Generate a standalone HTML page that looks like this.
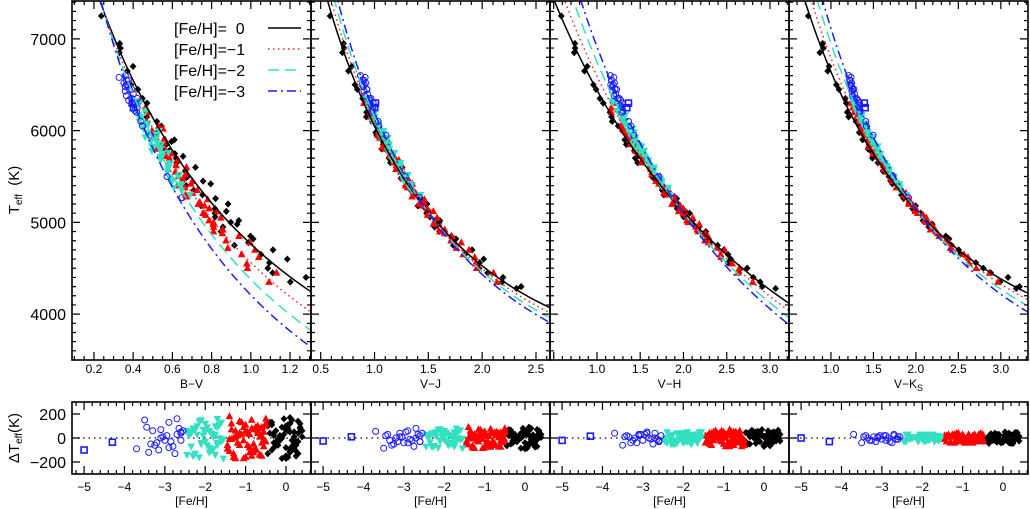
<!DOCTYPE html>
<html><head><meta charset="utf-8">
<style>
html,body{margin:0;padding:0;background:#fff;}
svg{display:block;font-family:"Liberation Sans",sans-serif;}
.pre{white-space:pre;}
</style></head>
<body>
<svg id="fig" width="1030" height="509" viewBox="0 0 1030 509" xmlns="http://www.w3.org/2000/svg"></svg>
<script>
// ---- data ----
const curveFeh = [0, -1, -2, -3];
const blackTeff = [7250,6900,6850,6700,6500,6450,6300,6200,6100,5950,5900,5850,5800,5750,5700,5600,5500,5450,5400,5300,5200,5150,5100,5000,4950,4850,4750,4600,4450,4280,
 6950,6650,6350,6150,6050,5980,5880,5780,5720,5650,5560,5480,5420,5350,5260,5180,5120,5060,5020,4980,4900,4820,4780,4700,4650,4560,4500,4400,4350,4300];
const blackFeh = [0.1,-0.2,0.3,0.0,-0.1,0.2,-0.3,0.05,0.15,-0.4,0.25,-0.05,0.1,-0.25,0.35,0.0,-0.15,0.2,-0.35,0.1,0.3,-0.1,0.0,-0.2,0.15,0.25,-0.45,0.05,-0.3,0.2,
 -0.35,0.4,-0.15,0.3,-0.45,0.05,0.2,-0.3,0.1,0.35,-0.2,0.0,0.25,-0.4,0.15,-0.05,0.3,-0.25,0.1,0.4,-0.35,0.0,0.2,-0.1,0.35,-0.3,0.05,0.25,-0.15,0.1];
const blackDBV = [120,-60,40,-150,90,10,-80,60,-20,130,-110,30,170,-40,80,-170,20,-90,110,50,-130,0,70,-60,150,-30,100,-160,40,-10,
 -100,60,-20,140,-130,80,-50,20,-90,120,-10,100,-150,40,-70,160,-30,60,-110,10,130,-80,50,-170,90,-40,110,-60,20,-120];
const blackDVJ = [60,-30,20,-80,40,5,-40,30,-10,70,-60,15,90,-20,40,-90,10,-50,55,25,-70,0,35,-30,80,-15,50,-85,20,-5,
 -50,30,-10,70,-65,40,-25,10,-45,60,-5,50,-75,20,-35,80,-15,30,-55,5,65,-40,25,-85,45,-20,55,-30,10,-60];
const blackDVH = [-40,50,10,-60,30,-20,60,-10,40,-50,20,70,-30,0,50,-70,30,-40,10,60,-20,40,-60,20,-10,50,-30,10,65,-45,
 35,-25,55,-15,45,-55,5,25,-35,65,-45,15,-5,40,-65,20,-25,50,-10,30,-50,10,45,-30,0,60,-40,20,-15,35];
const blackDVK = [30,-20,40,-10,20,-30,10,50,-40,0,25,-25,35,-15,45,-35,5,15,-45,20,-10,30,-20,10,40,-30,0,20,-15,25,
 -25,15,-35,45,-5,25,-45,35,-15,5,40,-30,20,-10,30,-40,10,-20,35,-25,15,-35,25,-5,45,-15,5,-45,30,-20];

const redTeff = [6300,6200,6100,6050,6000,5950,5900,5900,5850,5800,5750,5700,5650,5600,5550,5500,5450,5400,5350,5300,5250,5200,5150,5100,5050,5000,4950,4900,4850,4800,4700,4650,4550,4450,4350,
 6250,6150,6020,5980,5920,5870,5820,5780,5720,5680,5620,5580,5520,5480,5420,5380,5320,5280,5220,5180,5120,5080,5020,4980,4920,4880,4780,4720,4620,4500];
const redFeh = [-1.4,-0.6,-1.0,-0.8,-1.2,-0.5,-0.9,-1.3,-0.7,-1.1,-0.55,-1.45,-0.85,-0.65,-1.25,-0.95,-0.75,-1.15,-0.5,-1.35,-1.05,-0.6,-0.8,-1.2,-0.9,-0.7,-1.4,-1.0,-0.55,-1.1,-0.85,-0.65,-1.3,-0.75,-0.95,
 -0.95,-1.35,-0.6,-1.15,-0.75,-1.4,-0.5,-1.05,-0.8,-1.25,-0.65,-1.1,-0.9,-0.55,-1.3,-0.7,-1.2,-0.85,-1.45,-0.6,-1.0,-0.75,-1.35,-0.5,-1.15,-0.9,-0.65,-1.25,-0.8,-1.05];
const redDBV = [180,-40,60,-120,20,100,-80,-160,40,130,-20,-60,80,-140,10,50,-100,140,-30,70,-170,90,-50,20,-120,60,-10,110,-70,30,-150,80,0,-90,40,
 -60,120,-150,40,90,-110,160,-20,70,-170,10,130,-80,50,-130,100,-40,150,-90,20,-160,80,-10,120,-60,30,-140,60,-100,90];
const redDVJ = [90,-20,30,-60,10,50,-40,-80,20,65,-10,-30,40,-70,5,25,-50,70,-15,35,-85,45,-25,10,-60,30,-5,55,-35,15,-75,40,0,-45,20,
 -30,60,-75,20,45,-55,80,-10,35,-85,5,65,-40,25,-65,50,-20,75,-45,10,-80,40,-5,60,-30,15,-70,30,-50,45];
const redDVH = [-30,40,-50,20,60,-10,30,-60,50,-20,10,-40,70,-30,20,-70,40,0,-50,30,-20,60,-40,10,-60,50,-10,20,-30,40,-70,30,-20,50,0,
 30,-50,10,40,-60,20,-30,60,-10,50,-40,0,30,-70,40,-20,60,-50,20,-30,50,-10,40,-60,10,-40,30,-20,50,-30];
const redDVK = [20,-30,10,-20,30,-10,0,-40,20,-30,40,-10,10,-20,30,-40,20,0,-30,10,-20,30,-10,20,-40,10,-30,0,20,-10,30,-20,10,-30,0,
 -20,30,-10,20,-40,10,30,-30,0,20,-10,40,-20,10,-30,30,-40,0,20,-10,30,-30,10,-20,40,0,-10,20,-30,10];

const cyanTeff = [6350,6300,6250,6200,6150,6100,6080,6050,6000,5980,5950,5920,5900,5880,5850,5820,5800,5780,5750,5700,5650,5600,5550,5500,5450,5400,5350,5300,
 6320,6270,6220,6170,6120,6060,6020,5960,5930,5860,5830,5760,5720,5680,5620,5580,5520,5480,5420,5380];
const cyanFeh = [-2.3,-1.6,-2.0,-1.8,-2.4,-1.7,-2.1,-1.9,-1.55,-2.2,-1.75,-2.45,-1.65,-2.05,-1.85,-2.35,-1.6,-2.15,-1.95,-1.7,-2.25,-1.8,-2.0,-1.9,-1.65,-2.1,-1.75,-2.3,
 -1.7,-2.2,-1.9,-2.4,-1.6,-2.0,-2.3,-1.8,-2.1,-1.55,-2.45,-1.75,-2.05,-1.65,-2.35,-1.85,-2.15,-1.95,-1.7,-2.25];
const cyanDBV = [80,-30,120,-90,20,160,-50,60,-170,30,100,-140,0,70,-100,40,-20,140,-60,90,-130,10,50,-80,110,-40,30,-150,
 -60,100,-120,50,130,-30,80,-90,150,-10,60,-140,20,110,-70,40,-160,90,-40,70];
const cyanDVJ = [40,-15,60,-45,10,80,-25,30,-85,15,50,-70,0,35,-50,20,-10,70,-30,45,-65,5,25,-40,55,-20,15,-75,
 -30,50,-60,25,65,-15,40,-45,75,-5,30,-70,10,55,-35,20,-80,45,-20,35];
const cyanDVH = [-20,30,-40,20,50,-10,40,-30,10,-50,30,0,-20,40,-30,20,50,-40,10,-10,30,-50,20,0,-30,40,-20,10,
 30,-20,50,-40,10,40,-50,20,-10,50,-30,30,0,-40,20,-20,40,-30,10,-50];
const cyanDVK = [10,-20,20,-10,30,0,-30,20,-10,10,30,-20,0,20,-10,30,-20,10,-30,20,0,-10,20,-20,10,0,30,-10,
 -20,10,30,-30,20,-10,0,30,-20,10,-30,20,30,-10,0,-20,10,20,-30,10];

const blueTeff = [6600,6580,6550,6520,6500,6480,6450,6430,6400,6380,6350,6330,6300,6280,6250,6220,6200,6450,6500,6350,6550,6050,5950,5500,5270,6100];
const blueFeh = [-3.7,-3.5,-3.4,-3.3,-3.2,-3.1,-3.0,-2.9,-2.8,-2.7,-2.6,-3.45,-3.25,-3.05,-2.85,-2.65,-2.55,-3.15,-2.95,-2.75,-3.35,-2.6,-2.9,-2.7,-2.6,-3.1];
const blueDBV = [-90,150,-120,60,-40,70,-20,130,-70,160,40,90,-60,10,-30,80,60,-100,20,-130,-50,50,-80,30,-20,0];
const blueDVJ = [55,-85,30,-60,0,40,-40,60,-20,80,-30,20,-50,10,-10,30,40,-30,50,-70,-20,20,-40,0,-30,10];
const blueDVH = [40,-60,20,-40,0,30,-20,50,-10,40,-30,10,-20,30,0,-10,20,-40,30,-50,10,-20,40,0,-30,20];
const blueDVK = [30,-40,20,-20,10,0,-10,20,-30,30,-10,10,-20,20,0,-10,10,-30,20,-40,0,10,-20,20,-10,10];

const sqTeff = [6300, 6250];
const sqFeh = [-5.0, -4.3];
const sqDBV = [-100, -35];
const sqDVJ = [-25, 10];
const sqDVH = [-20, 15];
const sqDVK = [0, -30];

const bvTicks = ["0.2","0.4","0.6","0.8","1.0","1.2"];
const vjTicks = ["0.5","1.0","1.5","2.0","2.5"];
const vhTicks = ["1.0","1.5","2.0","2.5","3.0"];
const vkTicks = ["1.0","1.5","2.0","2.5","3.0"];
const teffTicks = [4000,5000,6000,7000];
const dTicks = [-200,0,200];
const fehTicks = [-5,-4,-3,-2,-1,0];

// ---- layout ----
const NS="http://www.w3.org/2000/svg";
const svg=document.getElementById('fig');
function mk(tag,attrs,parent){const e=document.createElementNS(NS,tag);for(const k in attrs)e.setAttribute(k,attrs[k]);(parent||svg).appendChild(e);return e;}

const TOP={y0:1,y1:360,tmin:3500,tmax:7413};
const BOT={y0:402,y1:474,dmin:-300,dmax:300,fmin:-5.3,fmax:0.62};
const yT=t=>TOP.y1-(t-TOP.tmin)/(TOP.tmax-TOP.tmin)*(TOP.y1-TOP.y0);
const yD=d=>BOT.y1-(d-BOT.dmin)/(BOT.dmax-BOT.dmin)*(BOT.y1-BOT.y0);

const panels=[
 {key:'bv',label:'B−V',sub:'',x0:72,x1:311,xmin:0.088,xmax:1.307,major:0.2,minor:0.05,ticks:bvTicks,a:0.552,b:0.570,c:-0.064,d:-0.062,xc:0.25,
  res:{black:blackDBV,red:redDBV,cyan:cyanDBV,blue:blueDBV,sq:sqDBV}},
 {key:'vj',label:'V−J',sub:'',x0:311,x1:550,xmin:0.41,xmax:2.63,major:0.5,minor:0.1,ticks:vjTicks,a:0.4526,b:0.431,c:-0.0503,d:-0.01465,xc:1.46,
  res:{black:blackDVJ,red:redDVJ,cyan:cyanDVJ,blue:blueDVJ,sq:sqDVJ}},
 {key:'vh',label:'V−H',sub:'',x0:550,x1:789,xmin:0.457,xmax:3.22,major:0.5,minor:0.1,ticks:vhTicks,a:0.572,b:0.214,c:-0.00358,d:-0.019,xc:1.94,
  res:{black:blackDVH,red:redDVH,cyan:cyanDVH,blue:blueDVH,sq:sqDVH}},
 {key:'vk',label:'V−K',sub:'S',x0:789,x1:1028,xmin:0.506,xmax:3.32,major:0.5,minor:0.1,ticks:vkTicks,a:0.4824,b:0.3034,c:-0.027,d:-0.016,xc:2.05,
  res:{black:blackDVK,red:redDVK,cyan:cyanDVK,blue:blueDVK,sq:sqDVK}}
];
const groups=[
 {key:'black',teff:blackTeff,feh:blackFeh,color:'#000',shape:'diamond'},
 {key:'red',teff:redTeff,feh:redFeh,color:'#ff0000',shape:'tri-up'},
 {key:'cyan',teff:cyanTeff,feh:cyanFeh,color:'#33e0c0',shape:'tri-down'},
 {key:'blue',teff:blueTeff,feh:blueFeh,color:'#1a1aff',shape:'circle'},
 {key:'sq',teff:sqTeff,feh:sqFeh,color:'#1a1aff',shape:'square'}
];
const curveStyle=[
 {color:'#000',dash:''},
 {color:'#ff2020',dash:'1.5,3.5'},
 {color:'#33e0c0',dash:'11,6'},
 {color:'#1a1aff',dash:'9,4,2,4'}
];

function theta(p,x,f){return p.a+p.b*x+p.c*x*x+p.d*f*(x-p.xc);}
function colorFor(p,T,f){
  const th=5040/T;let lo=p.xmin-1,hi=p.xmax+1.5;
  for(let i=0;i<50;i++){const m=(lo+hi)/2; if(theta(p,m,f)<th)lo=m;else hi=m;}
  return (lo+hi)/2;
}
function marker(g,shape,cx,cy,color,parent,name){
  let e;
  if(shape==='diamond'){e=mk('path',{d:`M${cx},${cy-3.6}L${cx+3.4},${cy}L${cx},${cy+3.6}L${cx-3.4},${cy}Z`,fill:color},parent);}
  else if(shape==='tri-up'){e=mk('path',{d:`M${cx},${cy-4.2}L${cx+3.8},${cy+2.8}L${cx-3.8},${cy+2.8}Z`,fill:color},parent);}
  else if(shape==='tri-down'){e=mk('path',{d:`M${cx},${cy+4.2}L${cx+3.8},${cy-2.8}L${cx-3.8},${cy-2.8}Z`,fill:color},parent);}
  else if(shape==='circle'){e=mk('circle',{cx:cx,cy:cy,r:3,fill:'none',stroke:color,'stroke-width':1},parent);}
  else {e=mk('rect',{x:cx-3,y:cy-3,width:6,height:6,fill:'none',stroke:color,'stroke-width':1.6},parent);}
  
  
  return e;
}
function txt(x,y,s,size,anchor,parent,name){
  const t=mk('text',{x:x,y:y,'font-size':size,'text-anchor':anchor||'middle',fill:'#000'},parent);
  t.textContent=s;
  
  
  return t;
}

const defs=mk('defs',{});
panels.forEach((p,pi)=>{
  const xs=v=>p.x0+(v-p.xmin)/(p.xmax-p.xmin)*(p.x1-p.x0);
  const xf=v=>p.x0+(v-BOT.fmin)/(BOT.fmax-BOT.fmin)*(p.x1-p.x0);
  const cpT=mk('clipPath',{id:'ct'+pi},defs);mk('rect',{x:p.x0,y:TOP.y0,width:p.x1-p.x0,height:TOP.y1-TOP.y0},cpT);
  const cpB=mk('clipPath',{id:'cb'+pi},defs);mk('rect',{x:p.x0,y:BOT.y0,width:p.x1-p.x0,height:BOT.y1-BOT.y0},cpB);

  const gt=mk('g',{});
  
  
  const pts=mk('g',{'clip-path':`url(#ct${pi})`},gt);
  
  
  groups.forEach(g=>{
    const res=p.res[g.key];
    g.teff.forEach((T,i)=>{
      const x=colorFor(p,T+res[i],g.feh[i]);
      marker(g,g.shape,xs(x),yT(T),g.color,pts,g.key+'-star');
    });
  });
  const cg=mk('g',{'clip-path':`url(#ct${pi})`},gt);
  curveFeh.forEach((f,ci)=>{
    let d='';const N=120;
    for(let k=0;k<=N;k++){const x=p.xmin+(p.xmax-p.xmin)*k/N;const T=5040/theta(p,x,f);d+=(k?'L':'M')+xs(x).toFixed(2)+','+yT(T).toFixed(2);}
    const e=mk('path',{d:d,fill:'none',stroke:curveStyle[ci].color,'stroke-width':1.5,'stroke-dasharray':curveStyle[ci].dash},cg);
    
    
  });
  const fr=mk('rect',{x:p.x0,y:TOP.y0,width:p.x1-p.x0,height:TOP.y1-TOP.y0,fill:'none',stroke:'#000','stroke-width':1.6},gt);
  
  let tk='';
  for(let t=3500;t<=7400;t+=100){const y=yT(t);const L=(t%1000===0)?8:4;tk+=`M${p.x0},${y}h${L}M${p.x1},${y}h${-L}`;}
  const n0=Math.ceil(p.xmin/p.minor-1e-6),n1=Math.floor(p.xmax/p.minor+1e-6);
  for(let n=n0;n<=n1;n++){const v=n*p.minor;const x=xs(v);const maj=Math.abs(v/p.major-Math.round(v/p.major))<1e-6;const L=maj?8:4;tk+=`M${x},${TOP.y1}v${-L}M${x},${TOP.y0}v${L}`;}
  const tp=mk('path',{d:tk,stroke:'#000','stroke-width':1.2,fill:'none'},gt);
  
  p.ticks.forEach(s=>txt(xs(parseFloat(s)),373,s,12,'middle',gt,p.key+'-x-tick-label'));
  const lab=txt((p.x0+p.x1)/2,388,p.label,12,'middle',gt,p.key+'-x-axis-title');
  if(p.sub){const ts=mk('tspan',{'font-size':9,dy:3},lab);ts.textContent=p.sub;}
  if(pi===0){
    teffTicks.forEach(t=>txt(66,yT(t)+6,String(t),16,'end',gt,'teff-tick-label'));
  }

  const gb=mk('g',{});
  
  
  const zl=mk('line',{x1:p.x0,x2:p.x1,y1:yD(0),y2:yD(0),stroke:'#000','stroke-width':1.3,'stroke-dasharray':'1.5,4'},gb);
  
  const bp=mk('g',{'clip-path':`url(#cb${pi})`},gb);
  groups.forEach(g=>{
    const res=p.res[g.key];
    g.feh.forEach((f,i)=>marker(g,g.shape,xf(f),yD(res[i]),g.color,bp,g.key+'-residual'));
  });
  const fb=mk('rect',{x:p.x0,y:BOT.y0,width:p.x1-p.x0,height:BOT.y1-BOT.y0,fill:'none',stroke:'#000','stroke-width':1.6},gb);
  
  let tb='';
  for(let v=-200;v<=200;v+=200){const y=yD(v);tb+=`M${p.x0},${y}h8M${p.x1},${y}h-8`;}
  for(let n=-26;n<=3;n++){const v=n*0.2;if(v<BOT.fmin||v>BOT.fmax)continue;const x=xf(v);const maj=(n%5===0);const L=maj?8:4;tb+=`M${x},${BOT.y1}v${-L}M${x},${BOT.y0}v${L}`;}
  const tbp=mk('path',{d:tb,stroke:'#000','stroke-width':1.2,fill:'none'},gb);
  
  fehTicks.forEach(v=>txt(xf(v),491,v<0?'−'+Math.abs(v):String(v),12,'middle',gb,p.key+'-feh-tick-label'));
  txt((p.x0+p.x1)/2,505,'[Fe/H]',12,'middle',gb,p.key+'-feh-axis-title');
  if(pi===0){
    dTicks.forEach(v=>txt(66,yD(v)+6,v<0?'−'+Math.abs(v):String(v),16,'end',gb,'dteff-tick-label'));
  }
});

// legend
const lg=mk('g',{});


const legText=['[Fe/H]=  0','[Fe/H]=−1','[Fe/H]=−2','[Fe/H]=−3'];
curveFeh.forEach((f,i)=>{
  const y=28+i*21;
  const t=txt(174,y+6,legText[i],16,'start',lg,'legend-label');
  t.setAttribute('class','pre');
  const l=mk('line',{x1:268,x2:301,y1:y,y2:y,stroke:curveStyle[i].color,'stroke-width':1.5,'stroke-dasharray':curveStyle[i].dash},lg);
  
  
});

const yt=mk('text',{x:0,y:0,'font-size':15,'text-anchor':'middle',transform:'translate(19,190) rotate(-90)','class':'pre'});


yt.innerHTML='T<tspan font-size="10" dy="3">eff</tspan><tspan dy="-3">  (K)</tspan>';
const yb=mk('text',{x:0,y:0,'font-size':15,'text-anchor':'middle',transform:'translate(19,438) rotate(-90)'});


yb.innerHTML='ΔT<tspan font-size="10" dy="3">eff</tspan><tspan dy="-3">(K)</tspan>';
</script>
</body></html>
